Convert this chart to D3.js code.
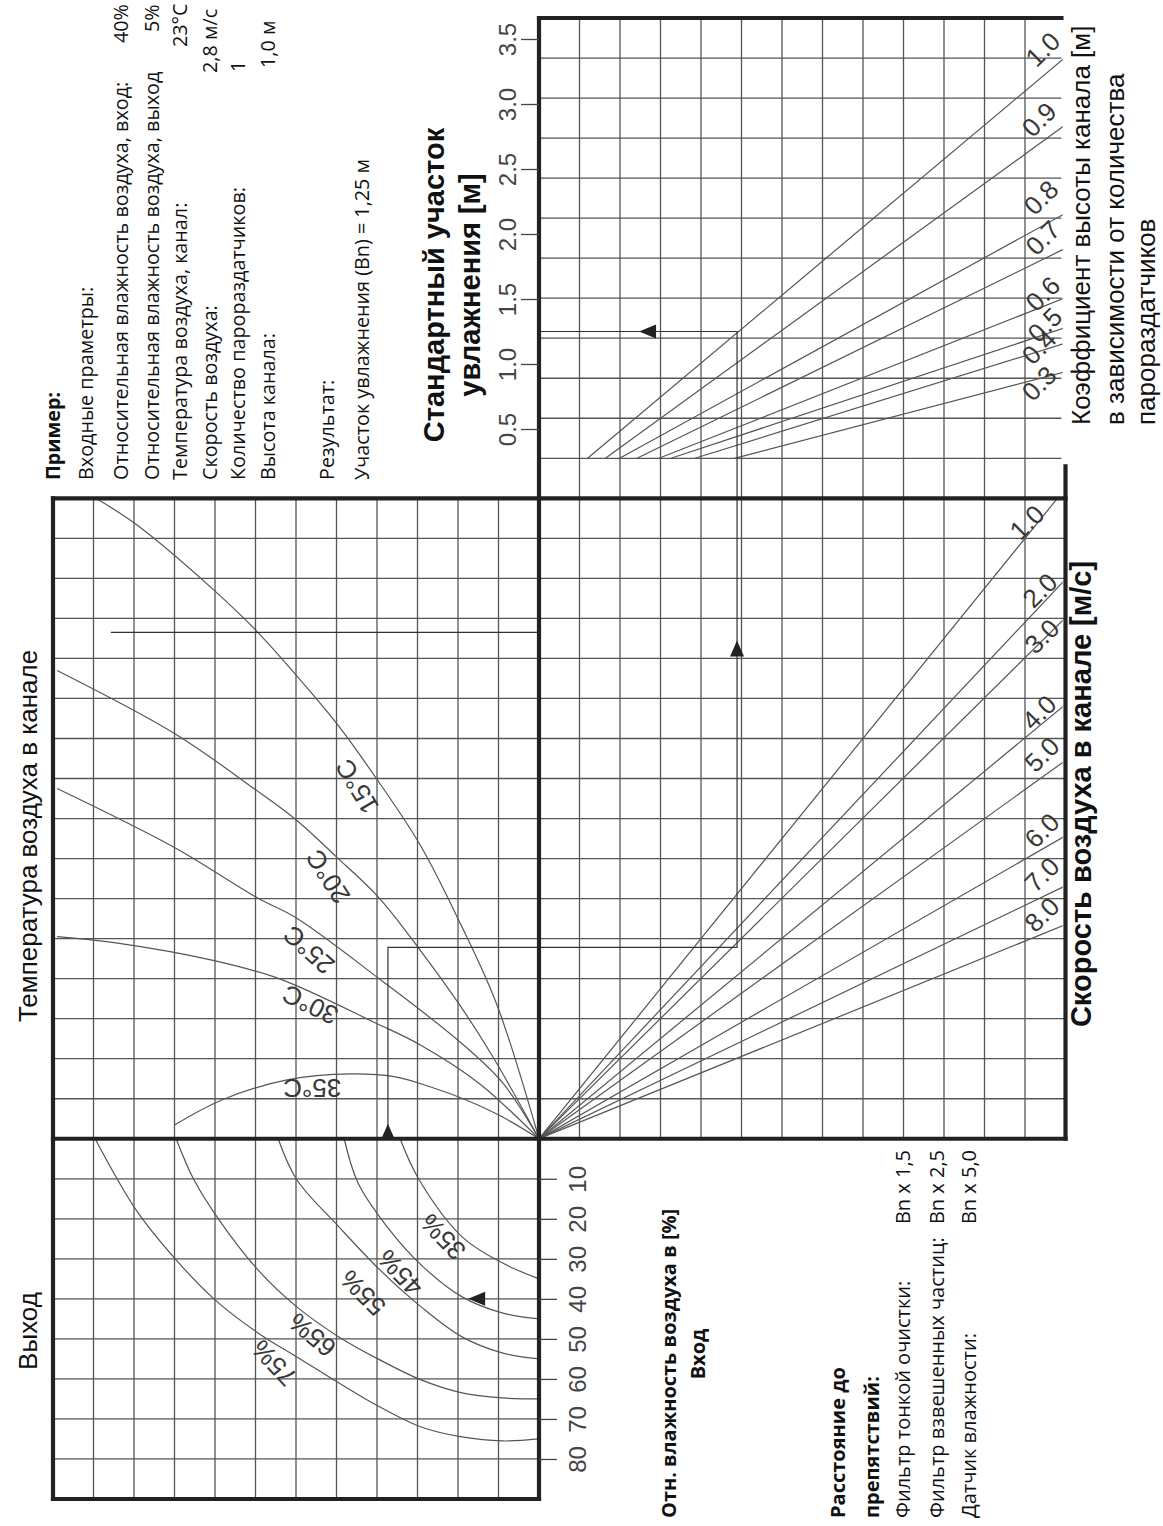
<!DOCTYPE html>
<html>
<head>
<meta charset="utf-8">
<script src="https://cdn.jsdelivr.net/npm/d3@7"></script>
<style>
body { margin: 0; background: #fff; }
svg { display: block; }
.grid { stroke: #555; stroke-width: 1.3; }
.frame { stroke: #222; stroke-width: 4.2; fill: none; stroke-linecap: square; }
.curve { stroke: #555; stroke-width: 1.2; fill: none; }
.path { stroke: #333; stroke-width: 1.2; fill: none; }
.tick line { stroke: #444; stroke-width: 1.3; }
.big { font-family: "Liberation Sans", Arial, sans-serif; font-size: 26px; fill: #111; }
.bold { font-weight: bold; }
.note { font-family: "Open Sans", sans-serif; font-size: 20px; fill: #111; }
.num { font-family: "Liberation Sans", Arial, sans-serif; font-size: 24px; fill: #444; }
.lab { font-family: "Liberation Sans", Arial, sans-serif; font-size: 26px; fill: #383838; }
</style>
</head>
<body>
<div class="container"></div>
<script>
// ---- data ----
var bnTicks = [0.5, 1.0, 1.5, 2.0, 2.5, 3.0, 3.5];
var humTicks = [10, 20, 30, 40, 50, 60, 70, 80];

// coefficient of duct height: start column on the bottom row, end value [m] on the right edge
var coefValues = [1.0, 0.9, 0.8, 0.7, 0.6, 0.5, 0.4, 0.3];
var coefStartCol = [1.2, 1.64, 1.99, 2.42, 2.96, 3.26, 3.85, 4.83];
var coefEndBn = [3.36, 2.84, 2.16, 1.89, 1.51, 1.28, 1.16, 0.94];

// air speed rays from the centre: end [col, row]
var speedValues = [1.0, 2.0, 3.0, 4.0, 5.0, 6.0, 7.0, 8.0];
var speedEnd = [[12.8, 0], [13, 2.02], [13, 2.98], [13, 5.15], [13, 6.55], [13, 8.43], [13, 9.68], [13, 10.65]];

// duct air temperature curves, [col, row]
var tempNames = ['15°C', '20°C', '25°C', '30°C', '35°C'];
var tempCurves = [
	[[-10.94, 0], [-9.95, 0.65], [-8.02, 2.3], [-6.96, 3.33], [-5.63, 4.85], [-4.94, 5.7], [-4.05, 6.95], [-2.94, 8.65], [-1.93, 10.65], [-1.04, 12.65], [0, 16]],
	[[-11.9, 4.3], [-8.99, 5.88], [-7.04, 7.25], [-6, 8.03], [-5.01, 8.95], [-3.95, 9.98], [-2.94, 11.28], [-1.93, 12.7], [-1.14, 13.95], [0, 16]],
	[[-11.9, 7.25], [-8.99, 8.73], [-6.96, 9.98], [-6, 10.48], [-3.95, 12], [-1.93, 13.6], [-0.9, 14.6], [0, 16]],
	[[-11.9, 10.95], [-10.49, 11.1], [-8.02, 11.55], [-6.42, 12], [-4.05, 13.1], [-2.94, 13.65], [-1.5, 14.6], [0, 16]],
	[[-8.99, 15.65], [-7.83, 15.03], [-6.22, 14.53], [-4.64, 14.38], [-3.58, 14.45], [-2.69, 14.7], [-1.8, 15.03], [-0.91, 15.45], [0, 16]]
];

// outlet humidity curves, [col, inlet humidity %]
var humNames = ['35%', '45%', '55%', '65%', '75%'];
var humCurves = [
	[[-3.43, 0], [-2.96, 10.25], [-1.9, 24.5], [-0.91, 31], [0, 35]],
	[[-4.81, 0], [-4.47, 11], [-3.75, 22], [-2.86, 32], [-1.9, 39.5], [-0.91, 43.5], [0, 45]],
	[[-6.44, 0], [-5.98, 10.25], [-4.94, 22], [-3.93, 32.75], [-2.91, 42], [-1.9, 49.5], [-0.91, 53.5], [0, 55]],
	[[-8.96, 0], [-8.52, 10.25], [-7.9, 20.25], [-6.94, 32.75], [-5.98, 42], [-4.94, 49.5], [-3.93, 55.25], [-2.91, 60.25], [-1.9, 63.5], [-0.91, 64.75], [0, 65]],
	[[-10.96, 0], [-9.95, 17.75], [-8.96, 30.25], [-8, 40.25], [-6.94, 48.5], [-5.98, 54.5], [-4.94, 61], [-3.93, 67], [-2.91, 72], [-1.9, 74.5], [-0.91, 75.5], [0, 75]]
];

// worked example
var exampleCols = [-3.73, 4.89];
var exampleRow = 11.22;
var exampleBn = 1.25;
var exampleRH = 40;
var strayRow = 3.35, strayCols = [-10.57, -0.05];

var exampleLines = ['Пример:', 'Входные праметры:', 'Относительная влажность воздуха, вход:',
	'Относительная влажность воздуха, выход', 'Температура воздуха, канал:', 'Скорость воздуха:',
	'Количество парораздатчиков:', 'Высота канала:', '', 'Результат:', 'Участок увлажнения (Bn) = 1,25 м'];
var exampleValues = ['', '', '40%', '5%', '23°C', '2,8 м/с', '1', '1,0 м', '', '', ''];
var obstacleLines = ['Расстояние до', 'препятствий:', 'Фильтр тонкой очистки:', 'Фильтр взвешенных частиц:', 'Датчик влажности:'];
var obstacleValues = ['', '', 'Bn x 1,5', 'Bn x 2,5', 'Bn x 5,0'];

// ---- layout ----
var W = 1163, H = 1526,
	xCol, yRow, yBn, yHum, svg;

function translate(x, y) {
	return 'translate(' + x + ',' + y + ')';
}

// upright text turned a quarter to the left
function vtext(g, x, y, str, cls, anchor) {
	return g.append('text')
		.attr('class', cls)
		.attr('transform', translate(x, y) + ' rotate(-90)')
		.attr('text-anchor', anchor || 'start')
		.attr('dominant-baseline', 'central')
		.text(str);
}

function hline(g, row, c0, c1, cls) {
	g.append('line').attr('class', cls)
		.attr('x1', xCol(c0)).attr('x2', xCol(c1))
		.attr('y1', yRow(row)).attr('y2', yRow(row));
}

function vline(g, col, r0, r1, cls) {
	g.append('line').attr('class', cls)
		.attr('x1', xCol(col)).attr('x2', xCol(col))
		.attr('y1', yRow(r0)).attr('y2', yRow(r1));
}

function createGrid() {
	var g = svg.append('g');
	// left block
	d3.range(-11, 0).forEach(function(c) { vline(g, c, 0, 25, 'grid'); });
	d3.range(1, 16).concat(d3.range(17, 25)).forEach(function(r) { hline(g, r, -12, 0, 'grid'); });
	// right block
	d3.range(1, 13).forEach(function(c) { vline(g, c, -12, 16, 'grid'); });
	d3.range(-11, 0).forEach(function(r) { hline(g, r, 0, 12.9, 'grid'); });
	d3.range(1, 16).forEach(function(r) { hline(g, r, 0, 13, 'grid'); });
}

function createFrame() {
	var g = svg.append('g');
	vline(g, -12, 0, 25, 'frame');
	hline(g, 25, -12, 0, 'frame');
	vline(g, 0, -12, 25, 'frame');
	hline(g, 0, -12, 13, 'frame');
	hline(g, 16, -12, 13, 'frame');
	hline(g, -12, 0, 12.9, 'frame');
	vline(g, 13, -0.8, 16, 'frame');
}

function createAxes() {
	var bnAxis = d3.axisLeft(yBn).tickValues(bnTicks).tickSize(18).tickFormat(d3.format('.1f'));
	var ga = svg.append('g').attr('transform', translate(xCol(0), 0)).call(bnAxis);
	ga.select('.domain').remove();
	ga.selectAll('text').attr('class', 'num')
		.attr('x', null).attr('dy', null)
		.attr('text-anchor', 'middle').attr('dominant-baseline', 'central')
		.attr('transform', translate(-32, 0) + ' rotate(-90)');

	var humAxis = d3.axisRight(yHum).tickValues(humTicks).tickSize(18);
	var gh = svg.append('g').attr('transform', translate(xCol(0), 0)).call(humAxis);
	gh.select('.domain').remove();
	gh.selectAll('text').attr('class', 'num')
		.attr('x', null).attr('dy', null)
		.attr('text-anchor', 'middle').attr('dominant-baseline', 'central')
		.attr('transform', translate(38, 0) + ' rotate(-90)');
}

function createLines() {
	svg.append('clipPath').attr('id', 'rclip').append('rect')
		.attr('x', xCol(0)).attr('y', 0)
		.attr('width', xCol(12.93) - xCol(0)).attr('height', yRow(16));
	var gr = svg.append('g').attr('clip-path', 'url(#rclip)');

	// duct height coefficient lines
	coefValues.forEach(function(c, i) {
		gr.append('line').attr('class', 'curve')
			.attr('x1', xCol(coefStartCol[i])).attr('y1', yRow(-1))
			.attr('x2', xCol(13)).attr('y2', yBn(coefEndBn[i]));
	});
	var coefLabCol = [12.44, 12.35, 12.4, 12.44, 12.44, 12.49, 12.35, 12.35];
	var coefLabBn = [3.42, 2.88, 2.28, 1.97, 1.54, 1.30, 1.13, 0.85];
	coefValues.forEach(function(c, i) {
		gr.append('text').attr('class', 'lab')
			.attr('text-anchor', 'middle').attr('dominant-baseline', 'central')
			.attr('transform', translate(xCol(coefLabCol[i]), yBn(coefLabBn[i])) + ' rotate(-45)')
			.text(d3.format('.1f')(c));
	});

	// air speed rays
	speedValues.forEach(function(v, i) {
		gr.append('line').attr('class', 'curve')
			.attr('x1', xCol(0)).attr('y1', yRow(16))
			.attr('x2', xCol(speedEnd[i][0])).attr('y2', yRow(speedEnd[i][1]));
	});
	var spLabCol = [12.05, 12.37, 12.42, 12.35, 12.42, 12.42, 12.42, 12.42];
	var spLabRow = [0.6, 2.3, 3.45, 5.35, 6.4, 8.3, 9.4, 10.4];
	speedValues.forEach(function(v, i) {
		gr.append('text').attr('class', 'lab')
			.attr('text-anchor', 'middle').attr('dominant-baseline', 'central')
			.attr('transform', translate(xCol(spLabCol[i]), yRow(spLabRow[i])) + ' rotate(-45)')
			.text(d3.format('.1f')(v));
	});

	// temperature curves
	var tLine = d3.line()
		.x(function(d) { return xCol(d[0]); })
		.y(function(d) { return yRow(d[1]); })
		.curve(d3.curveCatmullRom.alpha(0.5));
	svg.selectAll('.temp').data(tempCurves).enter()
		.append('path').attr('class', 'curve temp').attr('d', tLine);
	var tLabPos = [[-4.49, 7.2, -121], [-5.21, 9.45, -123], [-5.68, 11.28, -138], [-5.65, 12.65, -154], [-5.6, 14.73, 180]];
	tempNames.forEach(function(t, i) {
		svg.append('text').attr('class', 'lab')
			.attr('text-anchor', 'middle').attr('dominant-baseline', 'central')
			.attr('transform', translate(xCol(tLabPos[i][0]), yRow(tLabPos[i][1])) + ' rotate(' + tLabPos[i][2] + ')')
			.text(t);
	});

	// humidity curves
	var hLine = d3.line()
		.x(function(d) { return xCol(d[0]); })
		.y(function(d) { return yHum(d[1]); })
		.curve(d3.curveCatmullRom.alpha(0.5));
	svg.selectAll('.hum').data(humCurves).enter()
		.append('path').attr('class', 'curve hum').attr('d', hLine);
	var hLabPos = [[-2.37, 24.5, -134], [-3.43, 33.5, -133], [-4.35, 38.5, -135], [-5.6, 49, -140], [-6.54, 56, -133]];
	humNames.forEach(function(t, i) {
		svg.append('text').attr('class', 'lab')
			.attr('text-anchor', 'middle').attr('dominant-baseline', 'central')
			.attr('transform', translate(xCol(hLabPos[i][0]), yHum(hLabPos[i][1])) + ' rotate(' + hLabPos[i][2] + ')')
			.text(t);
	});

	hline(svg, strayRow, strayCols[0], strayCols[1], 'path');
}

function tri(x, y, dir) {
	// solid arrow head, tip at (x, y)
	var p = dir === 'up' ? [[x, y], [x - 7, y + 16], [x + 7, y + 16]]
		: [[x, y], [x + 17, y - 7], [x + 17, y + 7]];
	svg.append('path').attr('d', d3.line()(p) + 'Z').attr('fill', '#222');
}

function createExample() {
	var pts = [
		[xCol(exampleCols[0]), yRow(16)],
		[xCol(exampleCols[0]), yRow(exampleRow)],
		[xCol(exampleCols[1]), yRow(exampleRow)],
		[xCol(exampleCols[1]), yBn(exampleBn)],
		[xCol(0), yBn(exampleBn)]
	];
	svg.append('path').attr('class', 'path').attr('d', d3.line()(pts));
	tri(xCol(exampleCols[0]), yRow(16) - 15, 'up');
	tri(xCol(exampleCols[1]), yRow(3.55), 'up');
	tri(xCol(2.47), yBn(exampleBn), 'left');
	tri(xCol(-1.75), yHum(exampleRH), 'left');
}

function createTexts() {
	var g = svg.append('g');
	vtext(g, 28, 836, 'Температура воздуха в канале', 'big', 'middle');
	vtext(g, 28, 1331, 'Выход', 'big', 'middle');

	var xs = [52, 85, 120, 151, 179, 209, 237, 267, 0, 326, 361];
	var vy = [0, 0, 43, 32, 47, 73, 72, 68, 0, 0, 0];
	exampleLines.forEach(function(s, i) {
		if (!s) return;
		vtext(g, xs[i], 480, s, i === 0 ? 'note bold' : 'note').style('font-size', '19.8px');
		if (exampleValues[i]) vtext(g, xs[i], vy[i], exampleValues[i], 'note').style('font-size', '19.8px');
	});

	vtext(g, 434, 285, 'Стандартный участок', 'big bold', 'middle').style('font-size', '29px');
	vtext(g, 470, 285, 'увлажнения [м]', 'big bold', 'middle').style('font-size', '29px');

	vtext(g, 1081, 425, 'Коэффициент высоты канала [м]', 'big');
	vtext(g, 1115, 425, 'в зависимости от количества', 'big');
	vtext(g, 1146, 425, 'парораздатчиков', 'big');

	vtext(g, 1081, 794, 'Скорость воздуха в канале [м/с]', 'big bold', 'middle').style('font-size', '29px');

	vtext(g, 668, 1518, 'Отн. влажность воздуха в [%]', 'note bold');
	vtext(g, 697, 1354, 'Вход', 'note bold', 'middle');
	var ox = [837, 871, 902, 936, 968];
	obstacleLines.forEach(function(s, i) {
		vtext(g, ox[i], 1518, s, i < 2 ? 'note bold' : 'note');
		if (obstacleValues[i]) vtext(g, ox[i], 1150, obstacleValues[i], 'note', 'end');
	});
}

function createChart() {
	svg = d3.select('.container').append('svg')
		.attr('width', W)
		.attr('height', H);
	svg.append('rect').attr('width', W).attr('height', H).attr('fill', '#fff');

	xCol = d3.scaleLinear().domain([-12, 13]).range([53, 1065.5]);
	yRow = d3.scaleLinear().domain([-12, 25]).range([18, 1499]);
	yBn = d3.scaleLinear().domain([0, 3.5]).range([494, 39]);
	yHum = d3.scaleLinear().domain([0, 90]).range([yRow(16), yRow(25)]);

	createGrid();
	createLines();
	createExample();
	createFrame();
	createAxes();
	createTexts();
}

window.onload = function() {
	createChart();
}
</script>
</body>
</html>
